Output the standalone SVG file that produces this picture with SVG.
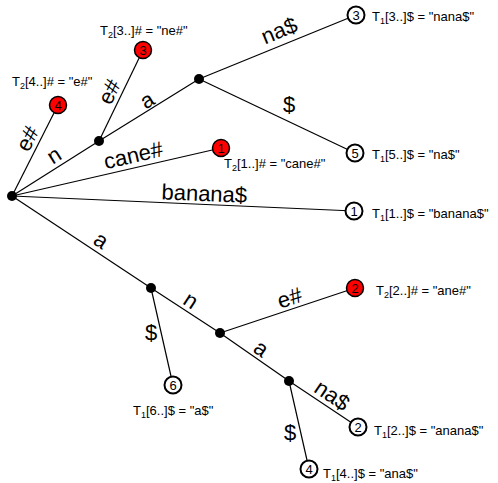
<svg xmlns="http://www.w3.org/2000/svg" width="498" height="483" viewBox="0 0 498 483">
  <style>
    .edge { stroke: #000; stroke-width: 1.2; fill: none; }
    .elabel { font-family: "Liberation Sans", Arial, sans-serif; font-size: 22px; fill: #000; text-anchor: middle; }
    .inner { fill: #000; }
    .leaf { fill: #fff; stroke: #000; stroke-width: 2; }
    .leaf2 { fill: #ff0000; stroke: #000; stroke-width: 1.5; }
    .num { font-family: "Liberation Sans", Arial, sans-serif; font-size: 13px; fill: #000; text-anchor: middle; }
    .tag { font-family: "Liberation Sans", Arial, sans-serif; font-size: 13px; fill: #000; }
    .sub { font-size: 9px; }
  </style>
  <rect width="498" height="483" fill="#fff"/>

  <g id="connectors">
    <line class="edge" x1="12" y1="196" x2="58" y2="105"/>
    <line class="edge" x1="12" y1="196" x2="99" y2="141"/>
    <line class="edge" x1="99" y1="141" x2="143" y2="50"/>
    <line class="edge" x1="99" y1="141" x2="199" y2="79"/>
    <line class="edge" x1="199" y1="79" x2="356" y2="15"/>
    <line class="edge" x1="199" y1="79" x2="355" y2="153"/>
    <line class="edge" x1="12" y1="196" x2="221" y2="148"/>
    <line class="edge" x1="12" y1="196" x2="354" y2="211"/>
    <line class="edge" x1="12" y1="196" x2="151" y2="288"/>
    <line class="edge" x1="151" y1="288" x2="173" y2="385"/>
    <line class="edge" x1="151" y1="288" x2="220" y2="333"/>
    <line class="edge" x1="220" y1="333" x2="355" y2="288"/>
    <line class="edge" x1="220" y1="333" x2="289" y2="381"/>
    <line class="edge" x1="289" y1="381" x2="358" y2="427"/>
    <line class="edge" x1="289" y1="381" x2="309" y2="469"/>

    <text class="elabel" x="34" y="142" transform="rotate(-63 34 142)">e#</text>
    <text class="elabel" x="58" y="161.5" transform="rotate(-32.3 58 161.5)">n</text>
    <text class="elabel" x="116" y="95" transform="rotate(-64.2 116 95)">e#</text>
    <text class="elabel" x="151" y="106.5" transform="rotate(-31.8 151 106.5)">a</text>
    <text class="elabel" x="282" y="37.5" transform="rotate(-22.2 282 37.5)">na$</text>
    <text class="elabel" x="289" y="112">$</text>
    <text class="elabel" x="135" y="162.5" transform="rotate(-12.9 135 162.5)">cane#</text>
    <text class="elabel" x="204" y="201" transform="rotate(2.5 204 201)">banana$</text>
    <text class="elabel" x="97" y="246.5" transform="rotate(33.5 97 246.5)">a</text>
    <text class="elabel" x="151" y="340">$</text>
    <text class="elabel" x="187" y="306.5" transform="rotate(33.1 187 306.5)">n</text>
    <text class="elabel" x="292" y="305" transform="rotate(-18.3 292 305)">e#</text>
    <text class="elabel" x="257" y="354.5" transform="rotate(34.8 257 354.5)">a</text>
    <text class="elabel" x="328" y="401.5" transform="rotate(34.1 328 401.5)">na$</text>
    <text class="elabel" x="290" y="440">$</text>
  </g>

  <!-- branching points -->
  <g id="root"><circle class="inner" cx="12" cy="196" r="5"/></g>
  <g id="node-n"><circle class="inner" cx="99" cy="141" r="5"/></g>
  <g id="node-na"><circle class="inner" cx="199" cy="79" r="5"/></g>
  <g id="node-a"><circle class="inner" cx="151" cy="288" r="5"/></g>
  <g id="node-an"><circle class="inner" cx="220" cy="333" r="5"/></g>
  <g id="node-ana"><circle class="inner" cx="289" cy="381" r="5"/></g>

  <!-- suffixes of T2 (red leaves) -->
  <g id="leaf-t2-4">
    <circle class="leaf2" cx="58" cy="105" r="8.5"/>
    <text class="num" x="58" y="109.7">4</text>
    <text class="tag" x="12" y="86">T<tspan class="sub" dy="3">2</tspan><tspan dy="-3">[4..]# = "e#"</tspan></text>
  </g>
  <g id="leaf-t2-3">
    <circle class="leaf2" cx="143" cy="50" r="8.5"/>
    <text class="num" x="143" y="54.7">3</text>
    <text class="tag" x="100" y="35">T<tspan class="sub" dy="3">2</tspan><tspan dy="-3">[3..]# = "ne#"</tspan></text>
  </g>
  <g id="leaf-t2-1">
    <circle class="leaf2" cx="221" cy="148" r="8.5"/>
    <text class="num" x="221" y="152.7">1</text>
    <text class="tag" x="224" y="168">T<tspan class="sub" dy="3">2</tspan><tspan dy="-3">[1..]# = "cane#"</tspan></text>
  </g>
  <g id="leaf-t2-2">
    <circle class="leaf2" cx="355" cy="288" r="8.5"/>
    <text class="num" x="355" y="292.7">2</text>
    <text class="tag" x="376" y="295">T<tspan class="sub" dy="3">2</tspan><tspan dy="-3">[2..]# = "ane#"</tspan></text>
  </g>

  <!-- suffixes of T1 (white leaves) -->
  <g id="leaf-t1-3">
    <circle class="leaf" cx="356" cy="15" r="8.5"/>
    <text class="num" x="356" y="19.7">3</text>
    <text class="tag" x="372" y="21">T<tspan class="sub" dy="3">1</tspan><tspan dy="-3">[3..]$ = "nana$"</tspan></text>
  </g>
  <g id="leaf-t1-5">
    <circle class="leaf" cx="355" cy="153" r="8.5"/>
    <text class="num" x="355" y="157.7">5</text>
    <text class="tag" x="372" y="159">T<tspan class="sub" dy="3">1</tspan><tspan dy="-3">[5..]$ = "na$"</tspan></text>
  </g>
  <g id="leaf-t1-1">
    <circle class="leaf" cx="354" cy="211" r="8.5"/>
    <text class="num" x="354" y="215.7">1</text>
    <text class="tag" x="372" y="218">T<tspan class="sub" dy="3">1</tspan><tspan dy="-3">[1..]$ = "banana$"</tspan></text>
  </g>
  <g id="leaf-t1-6">
    <circle class="leaf" cx="173" cy="385" r="8.5"/>
    <text class="num" x="173" y="389.7">6</text>
    <text class="tag" x="133" y="415">T<tspan class="sub" dy="3">1</tspan><tspan dy="-3">[6..]$ = "a$"</tspan></text>
  </g>
  <g id="leaf-t1-2">
    <circle class="leaf" cx="358" cy="427" r="8.5"/>
    <text class="num" x="358" y="431.7">2</text>
    <text class="tag" x="374" y="435">T<tspan class="sub" dy="3">1</tspan><tspan dy="-3">[2..]$ = "anana$"</tspan></text>
  </g>
  <g id="leaf-t1-4">
    <circle class="leaf" cx="309" cy="469" r="8.5"/>
    <text class="num" x="309" y="473.7">4</text>
    <text class="tag" x="323" y="478">T<tspan class="sub" dy="3">1</tspan><tspan dy="-3">[4..]$ = "ana$"</tspan></text>
  </g>
</svg>
